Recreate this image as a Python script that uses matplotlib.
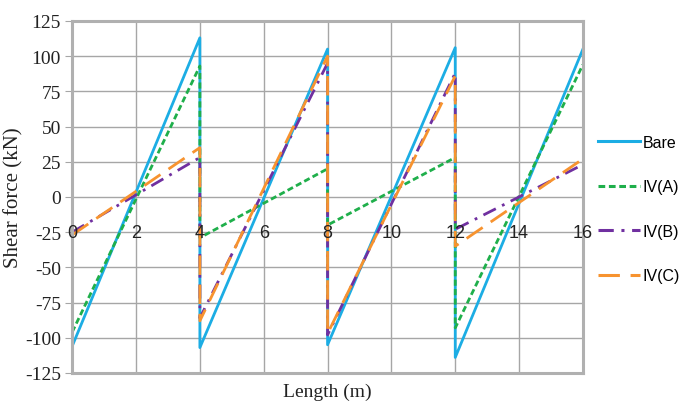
import matplotlib
matplotlib.use("Agg")
import matplotlib.pyplot as plt
from matplotlib.lines import Line2D

plt.rcParams['axes.unicode_minus'] = False

# Shear force along the beam, each span given as (start, end) values
x_pts = [0, 4, 4, 8, 8, 12, 12, 16]
bare = [-106, 113, -107, 105, -105, 106, -114, 105]
iv_a = [-96, 93, -29, 20, -20, 28, -93, 94]
iv_b = [-25, 28, -86, 95, -98, 88, -23, 23]
iv_c = [-27, 35, -88, 100, -97, 86, -35, 27]

series_names = ['Bare', 'IV(A)', 'IV(B)', 'IV(C)']
x_ticks = [0, 2, 4, 6, 8, 10, 12, 14, 16]
y_ticks = [-125, -100, -75, -50, -25, 0, 25, 50, 75, 100, 125]

colors = ['#1CADE4', '#1FAF4B', '#7030A0', '#F7932F']
styles = ['-', (0, (2.2, 1.2)), (0, (5, 2.5, 1, 2.5)), (0, (7, 3.5))]

serif = ['Liberation Serif', 'DejaVu Serif']
sans = ['Liberation Sans', 'DejaVu Sans']

fig = plt.figure(figsize=(6.81, 4.06), dpi=100)
ax = fig.add_axes([0.106, 0.079, 0.75, 0.867])

for vals, name, c, ls in zip([bare, iv_a, iv_b, iv_c], series_names, colors, styles):
    ax.plot(x_pts, vals, color=c, linestyle=ls, linewidth=2.0, label=name)

ax.set_xlim(0, 16)
ax.set_ylim(-125, 125)
ax.set_xticks(x_ticks)
ax.set_yticks(y_ticks)
ax.grid(True, color='#A6A6A6', linewidth=1.0)
ax.set_axisbelow(True)

for s in ax.spines.values():
    s.set_color('#B0B0B0')
    s.set_linewidth(2.2)

ax.tick_params(axis='x', length=0, labelbottom=False)
ax.tick_params(axis='y', length=5, color='#A6A6A6', pad=3)
for lab in ax.get_yticklabels():
    lab.set_fontfamily(serif)
    lab.set_fontsize(14)
    lab.set_color('#222222')

# x tick labels sit beside the zero line, as in the spreadsheet chart
for xv in x_ticks:
    ax.text(xv, -25, str(xv), ha='center', va='center', fontsize=13,
            family=sans, color='#222222')

fig.text(14 / 681, 0.512, 'Shear force (kN)', family=serif, fontsize=15,
         rotation=90, ha='center', va='center', color='#222222')
ax.set_xlabel('Length (m)', family=serif, fontsize=14, color='#222222')
ax.xaxis.set_label_coords(0.5, -0.028)

handles = [Line2D([0], [0], color=c, linestyle=ls, linewidth=2.2)
           for c, ls in zip(colors, styles)]
leg = fig.legend(handles, series_names, loc='center left',
                 bbox_to_anchor=(598 / 681, 0.483), frameon=False,
                 prop={'family': sans, 'size': 11.5}, handlelength=2.6,
                 handletextpad=0.2, labelspacing=1.85, borderaxespad=0,
                 borderpad=0)

fig.savefig('out.png', dpi=100, facecolor='white')
